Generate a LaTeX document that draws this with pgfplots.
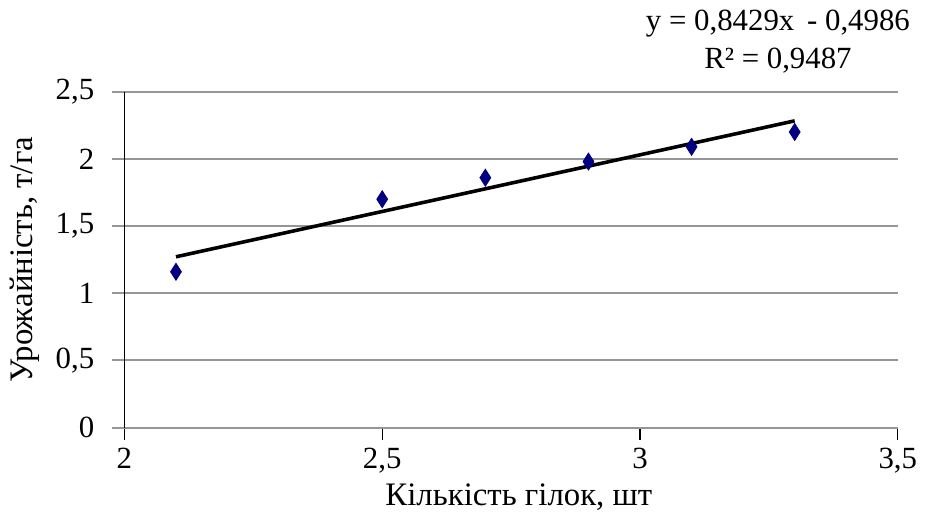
\documentclass[border=0pt]{standalone}
\usepackage{pgfplots}
\pgfplotsset{compat=1.18}
\usepackage{fontspec}
\setmainfont{Liberation Serif}
\definecolor{gridgray}{RGB}{150,150,150}
\definecolor{navy}{RGB}{0,0,128}
\begin{document}
\fontsize{15}{18}\selectfont
\begin{tikzpicture}
\begin{axis}[
  scale only axis,
  width=389pt, height=169pt,
  xmin=2, xmax=3.5, ymin=0, ymax=2.5,
  xtick={2,2.5,3,3.5}, ytick={0,0.5,1,1.5,2,2.5},
  /pgf/number format/use comma,
  /pgf/number format/assume math mode=true,
  ticklabel style={font=\fontsize{15.5}{18}\selectfont},
  yticklabel style={xshift=-4pt},
  xticklabel style={yshift=1pt},
  label style={font=\fontsize{16.5}{19}\selectfont},
  axis x line*=bottom, axis y line*=left,
  x axis line style={gridgray, line width=1pt},
  y axis line style={black, line width=0.6pt},
  ymajorgrids, grid style={gridgray, line width=1pt},
  tick align=outside,
  xtick style={black, line width=0.6pt},
  ytick style={gridgray, line width=1pt},
  major tick length=6pt,
  xlabel={Кількість гілок, шт},
  ylabel={Урожайність, т/га},
  xlabel style={at={(axis description cs:0.51,0)}, anchor=north, yshift=-23pt},
  ylabel style={yshift=-2pt},
  clip=false,
]
\addplot[only marks, mark=diamond*, mark size=4.5pt, navy, mark options={scale=0.95, xscale=0.85}]
  coordinates {(2.1,1.16) (2.5,1.70) (2.7,1.86) (2.9,1.98) (3.1,2.09) (3.3,2.20)};
\addplot[black, line width=1.8pt] coordinates {(2.1,1.2715) (3.3,2.2830)};
\node[align=center, font=\fontsize{15.5}{19}\selectfont, anchor=south] at (axis description cs:0.845,1.025)
  {y = 0,8429x\, - 0,4986\\R² = 0,9487};
\end{axis}
\end{tikzpicture}
\end{document}
